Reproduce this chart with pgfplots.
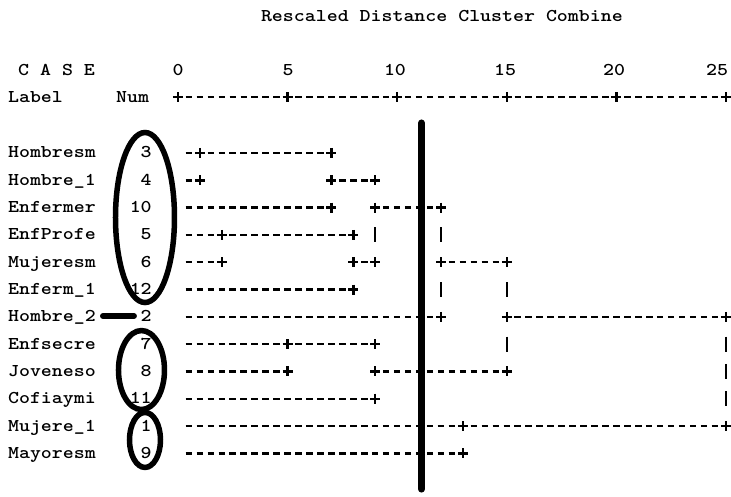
\documentclass[border=0pt]{standalone}
\usepackage{fontspec}
\usepackage{pgfplots}
\pgfplotsset{compat=1.18}
% heavier typewriter text, stretched to the 10.96pt character cell of the listing
\newfontfamily\twfont{lmmonolt10-bold.otf}[FakeStretch=1.16]
\newcommand{\tw}{\twfont\fontsize{18}{21}\selectfont}

\begin{document}
\begin{tikzpicture}[every node/.style={font=\tw, inner sep=0pt},
  lab/.style={anchor=base west, yshift=-5pt},
  num/.style={anchor=base east, yshift=-5pt}]
\begin{axis}[
  width=731pt, height=497pt, scale only axis,
  xmin=-8.12, xmax=25.23, ymin=-4.604, ymax=13.60,
  y dir=reverse, hide axis, clip=false,
  every axis plot/.append style={line width=2.4pt, black},
  den/.style={dash pattern=on 6.5pt off 4.46pt, line cap=butt, mark=none},
]
\path (rel axis cs:0,0) rectangle (rel axis cs:1,1);

% title and scale
\node[anchor=center] at (axis cs:12.04,-4.02) {Rescaled Distance Cluster Combine};
\node[lab] at (axis cs:-7.30,-2.04) {C A S E};
\node[lab] at (axis cs:-7.76,-1.05) {Label};
\node[lab] at (axis cs:-2.83,-1.05) {Num};
\node[anchor=base, yshift=-5pt] at (axis cs:0,-2.04) {0};
\node[anchor=base, yshift=-5pt] at (axis cs:5.02,-2.04) {5};
\node[anchor=base, yshift=-5pt] at (axis cs:9.90,-2.04) {10};
\node[anchor=base, yshift=-5pt] at (axis cs:14.92,-2.04) {15};
\node[anchor=base, yshift=-5pt] at (axis cs:19.90,-2.04) {20};
\node[anchor=base, yshift=-5pt] at (axis cs:24.60,-2.04) {25};

\addplot[den] coordinates {(-0.148,-1.05) (25,-1.05)};
\addplot[only marks, mark=+, mark size=5pt] coordinates {
  (0,-1.05) (5,-1.05) (10,-1.05) (15,-1.05) (20,-1.05) (25,-1.05)};

% case labels and numbers
\node[lab] at (axis cs:-7.76,1) {Hombresm};   \node[num] at (axis cs:-1.19,1) {3};
\node[lab] at (axis cs:-7.76,2) {Hombre\_1};  \node[num] at (axis cs:-1.19,2) {4};
\node[lab] at (axis cs:-7.76,3) {Enfermer};   \node[num] at (axis cs:-1.19,3) {10};
\node[lab] at (axis cs:-7.76,4) {EnfProfe};   \node[num] at (axis cs:-1.19,4) {5};
\node[lab] at (axis cs:-7.76,5) {Mujeresm};   \node[num] at (axis cs:-1.19,5) {6};
\node[lab] at (axis cs:-7.76,6) {Enferm\_1};  \node[num] at (axis cs:-1.19,6) {12};
\node[lab] at (axis cs:-7.76,7) {Hombre\_2};  \node[num] at (axis cs:-1.19,7) {2};
\node[lab] at (axis cs:-7.76,8) {Enfsecre};   \node[num] at (axis cs:-1.19,8) {7};
\node[lab] at (axis cs:-7.76,9) {Joveneso};   \node[num] at (axis cs:-1.19,9) {8};
\node[lab] at (axis cs:-7.76,10) {Cofiaymi};  \node[num] at (axis cs:-1.19,10) {11};
\node[lab] at (axis cs:-7.76,11) {Mujere\_1}; \node[num] at (axis cs:-1.19,11) {1};
\node[lab] at (axis cs:-7.76,12) {Mayoresm};  \node[num] at (axis cs:-1.19,12) {9};

% dendrogram branches
\addplot[den] coordinates {(0.35,1) (7,1)};
\addplot[den] coordinates {(0.35,2) (1,2)};
\addplot[den] coordinates {(6.852,2) (9,2)};
\addplot[den] coordinates {(0.35,3) (7,3)};
\addplot[den] coordinates {(8.852,3) (12,3)};
\addplot[den] coordinates {(0.35,4) (8,4)};
\addplot[den] coordinates {(0.35,5) (2,5)};
\addplot[den] coordinates {(7.852,5) (9,5)};
\addplot[den] coordinates {(11.852,5) (15,5)};
\addplot[den] coordinates {(0.35,6) (8,6)};
\addplot[den] coordinates {(0.35,7) (12,7)};
\addplot[den] coordinates {(14.852,7) (25,7)};
\addplot[den] coordinates {(0.35,8) (9,8)};
\addplot[den] coordinates {(0.35,9) (5,9)};
\addplot[den] coordinates {(8.852,9) (15,9)};
\addplot[den] coordinates {(0.35,10) (9,10)};
\addplot[den] coordinates {(0.35,11) (25,11)};
\addplot[den] coordinates {(0.35,12) (13,12)};

% joins
\addplot[only marks, mark=+, mark size=5pt] coordinates {
  (1,1) (7,1) (1,2) (7,2) (9,2) (7,3) (9,3) (12,3) (2,4) (8,4)
  (2,5) (8,5) (9,5) (12,5) (15,5) (8,6) (12,7) (15,7) (25,7)
  (5,8) (9,8) (5,9) (9,9) (15,9) (9,10) (13,11) (25,11) (13,12)};
\addplot[only marks, mark=|, mark size=7.5pt] coordinates {
  (9,4) (12,4) (12,6) (15,6) (15,8) (25,8) (25,9) (25,10)};

% cut line
\addplot[line width=7pt, line cap=round] coordinates {(11.11,-0.10) (11.11,13.31)};

% hand-drawn marks
\draw[line width=5.5pt] (axis cs:-1.505,3.363) ellipse [x radius=29.5pt, y radius=85pt];
\draw[line width=5.5pt] (axis cs:-1.665,8.95) ellipse [x radius=23pt, y radius=39.5pt];
\draw[line width=5.5pt] (axis cs:-1.505,11.51) ellipse [x radius=15.5pt, y radius=27.5pt];
\draw[line width=6pt, line cap=round] (axis cs:-3.42,6.97) -- (axis cs:-2.01,6.97);
\end{axis}
\end{tikzpicture}
\end{document}
